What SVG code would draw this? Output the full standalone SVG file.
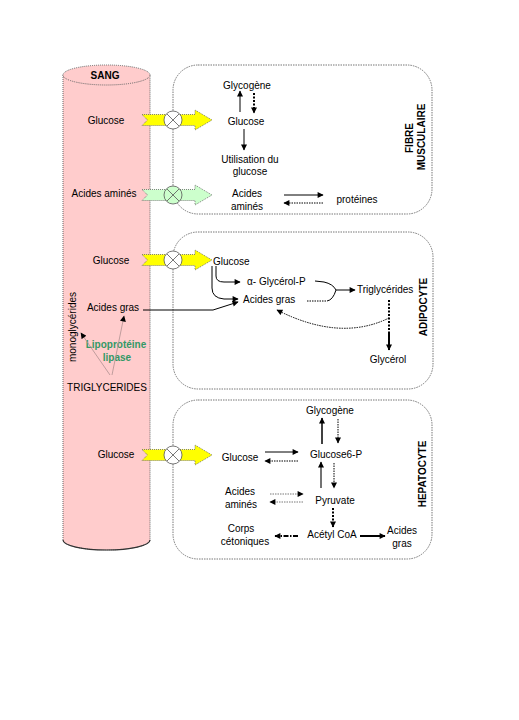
<svg xmlns="http://www.w3.org/2000/svg" width="519" height="720" viewBox="0 0 519 720">
<style>
text{font-family:"Liberation Sans",Arial,sans-serif;font-size:10px;fill:#000}
.c{text-anchor:middle}
.b{font-weight:bold}
.box{fill:#fff;stroke:#777;stroke-width:1;stroke-dasharray:1.5,1}
.ln{fill:none;stroke:#000;stroke-width:1}
.bold{fill:none;stroke:#000;stroke-width:2}
.dot{fill:none;stroke:#000;stroke-width:1;stroke-dasharray:1.5,1}
.gdot{fill:none;stroke:#555;stroke-width:1;stroke-dasharray:1.5,1}
.pk{fill:none;stroke:#b09090;stroke-width:0.8}
.yel{fill:#ffff00;stroke:#666;stroke-width:0.8;stroke-dasharray:1,1}
.grn{fill:#ccffcc;stroke:#666;stroke-width:0.8;stroke-dasharray:1,1}
.valve{stroke:#555;stroke-width:0.8}
</style>
<defs>
<marker id="ah" viewBox="0 0 10 10" refX="9" refY="5" markerWidth="7" markerHeight="6" markerUnits="userSpaceOnUse" orient="auto"><path d="M0,0 L10,5 L0,10 z" fill="#000"/></marker>
<path id="arr" d="M142,-5.5 L195,-5.5 L195,-10 L212,0 L195,10 L195,5.5 L142,5.5 L147.5,0 Z"/>
<g id="x"><line x1="-6" y1="-6" x2="6" y2="6"/><line x1="-6" y1="6" x2="6" y2="-6"/></g>
</defs>
<rect width="519" height="720" fill="#fff"/>

<g id="boxes">
<rect id="fibre" class="box" x="173" y="65" width="259" height="149" rx="25"/>
<rect id="adipocyte" class="box" x="173" y="232" width="260" height="157" rx="25"/>
<rect id="hepatocyte" class="box" x="173" y="400" width="259" height="159" rx="25"/>
</g>

<g id="sang">
<path d="M63,75 V540 A43.5,10 0 0 0 150,540 V75" fill="#ffcccc" stroke="#666" stroke-width="1" stroke-dasharray="1,1"/>
<path d="M63,540 A43.5,10 0 0 0 150,540" fill="none" stroke="#333" stroke-width="1.2"/>
<ellipse cx="106.5" cy="75" rx="43.5" ry="10" fill="#ffcccc" stroke="#666" stroke-width="1" stroke-dasharray="1,1"/>
<text class="c b" x="105" y="79">SANG</text>
<text class="c" x="106" y="124">Glucose</text>
<text class="c" x="104" y="197">Acides aminés</text>
<text class="c" x="111" y="264">Glucose</text>
<text class="c" x="113" y="311">Acides gras</text>
<text class="c" transform="rotate(-90 75.5 327)" x="75.5" y="327">monoglycérides</text>
<text class="c b" x="116" y="348" style="fill:#339966">Lipoprotéine</text>
<text class="c b" x="117" y="361" style="fill:#339966">lipase</text>
<text class="c" x="107" y="391">TRIGLYCERIDES</text>
<text class="c" x="116" y="458">Glucose</text>
<line class="pk" x1="110" y1="375" x2="81" y2="333" marker-end="url(#ah)"/>
<line class="pk" x1="112" y1="375" x2="124" y2="316" marker-end="url(#ah)"/>
</g>

<g id="transport">
<g transform="translate(0,120)"><use href="#arr" class="yel"/><circle cx="173" cy="0" r="9" fill="#fff" class="valve"/><use href="#x" transform="translate(173,0)" class="valve"/></g>
<g transform="translate(0,195)"><use href="#arr" class="grn"/><circle cx="173" cy="0" r="9" fill="#ccffcc" class="valve"/><use href="#x" transform="translate(173,0)" class="valve"/></g>
<g transform="translate(0,260)"><use href="#arr" class="yel"/><circle cx="173" cy="0" r="9" fill="#fff" class="valve"/><use href="#x" transform="translate(173,0)" class="valve"/></g>
<g transform="translate(0,455)"><use href="#arr" class="yel"/><circle cx="173" cy="0" r="9" fill="#fff" class="valve"/><use href="#x" transform="translate(173,0)" class="valve"/></g>
</g>

<g id="fibre-labels">
<text class="c" x="247" y="89">Glycogène</text>
<text class="c" x="246" y="125">Glucose</text>
<text class="c" x="250" y="163">Utilisation du</text>
<text class="c" x="250" y="175">glucose</text>
<text class="c" x="247" y="197">Acides</text>
<text class="c" x="247" y="210">aminés</text>
<text class="c" x="357" y="203">protéines</text>
<text class="c b" transform="rotate(-90 413 138)" x="413" y="138">FIBRE</text>
<text class="c b" transform="rotate(-90 425 137)" x="425" y="137">MUSCULAIRE</text>
</g>

<g id="adipo-labels">
<text x="213" y="265">Glucose</text>
<text x="247" y="285">α- Glycérol-P</text>
<text x="243" y="303">Acides gras</text>
<text x="357" y="293">Triglycérides</text>
<text class="c" x="388" y="363">Glycérol</text>
<text class="c b" transform="rotate(-90 427 307)" x="427" y="307">ADIPOCYTE</text>
</g>

<g id="hepato-labels">
<text class="c" x="330" y="414">Glycogène</text>
<text class="c" x="336" y="458">Glucose6-P</text>
<text class="c" x="240" y="461">Glucose</text>
<text class="c" x="335" y="504">Pyruvate</text>
<text class="c" x="240" y="495">Acides</text>
<text class="c" x="241" y="508">aminés</text>
<text class="c" x="332" y="538">Acétyl CoA</text>
<text class="c" x="241" y="532">Corps</text>
<text class="c" x="245" y="545">cétoniques</text>
<text class="c" x="402" y="534">Acides</text>
<text class="c" x="402" y="547">gras</text>
<text class="c b" transform="rotate(-90 426 474)" x="426" y="474">HEPATOCYTE</text>
</g>

<g id="connectors">
<!-- fibre -->
<line class="ln" x1="240" y1="112" x2="240" y2="91" marker-end="url(#ah)"/>
<line class="bold" style="stroke-dasharray:2,1.5" x1="254" y1="93" x2="254" y2="113" marker-end="url(#ah)"/>
<line class="ln" x1="244" y1="129" x2="244" y2="150" marker-end="url(#ah)"/>
<line class="ln" x1="284" y1="195" x2="323" y2="195" marker-end="url(#ah)"/>
<line class="dot" x1="323" y1="203" x2="284" y2="203" marker-end="url(#ah)"/>
<!-- adipocyte -->
<path class="ln" d="M216,266 V276 Q216,282 224,282 H240" marker-end="url(#ah)"/>
<path class="ln" d="M212,266 V288 Q212,298 224,299 H238" marker-end="url(#ah)"/>
<path class="ln" d="M143,310 H213 L238,302" marker-end="url(#ah)"/>
<path class="ln" d="M315,281 L324,282 Q333,284 336,290"/>
<path class="dot" d="M307,301 H327"/>
<path class="ln" d="M327,301 Q333,300 336,290"/>
<line class="ln" x1="336" y1="290" x2="355" y2="290" marker-end="url(#ah)"/>
<line class="bold" style="stroke-dasharray:2,1.5" x1="389" y1="300" x2="389" y2="333"/>
<line class="bold" x1="389" y1="332" x2="389" y2="350" marker-end="url(#ah)"/>
<path class="dot" d="M389,318 Q340,342 277,310" marker-end="url(#ah)"/>
<!-- hepatocyte -->
<line class="ln" x1="265" y1="452" x2="298" y2="452" marker-end="url(#ah)"/>
<line class="dot" x1="298" y1="461" x2="265" y2="461" marker-end="url(#ah)"/>
<line class="bold" style="stroke-width:1.5" x1="322" y1="444" x2="322" y2="418" marker-end="url(#ah)"/>
<line class="dot" x1="338" y1="419" x2="338" y2="443" marker-end="url(#ah)"/>
<line class="bold" style="stroke:#444;stroke-width:1.5" x1="321" y1="488" x2="321" y2="462" marker-end="url(#ah)"/>
<line class="dot" x1="334" y1="463" x2="334" y2="488" marker-end="url(#ah)"/>
<line class="gdot" style="stroke-width:0.8" x1="270" y1="494" x2="303" y2="494" marker-end="url(#ah)"/>
<line class="gdot" style="stroke-width:0.8" x1="303" y1="502" x2="270" y2="502" marker-end="url(#ah)"/>
<line class="bold" style="stroke-dasharray:2,1.5" x1="333" y1="508" x2="333" y2="527" marker-end="url(#ah)"/>
<line class="bold" style="stroke-dasharray:5,1.5,1.5,1.5" x1="298" y1="536" x2="275" y2="536" marker-end="url(#ah)"/>
<line class="bold" x1="360" y1="536" x2="385" y2="536" marker-end="url(#ah)"/>
</g>
</svg>
